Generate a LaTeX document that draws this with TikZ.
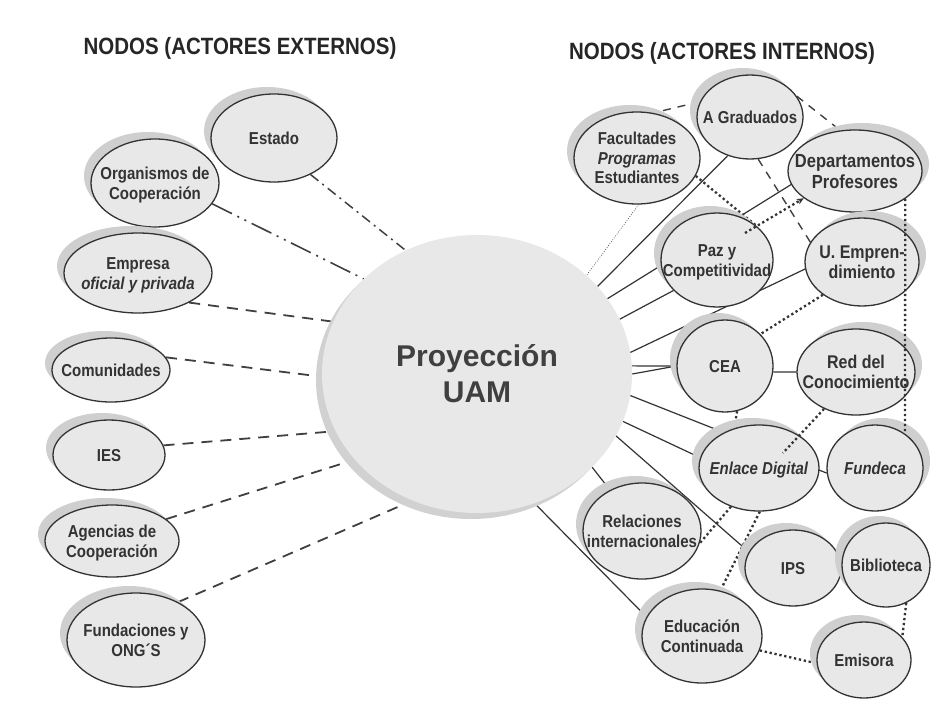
\documentclass[tikz,border=0pt]{standalone}
\usepackage{fontspec}
\setmainfont{Liberation Sans}
\usetikzlibrary{shapes.geometric,shadows,backgrounds,arrows.meta}
\newcommand\vst[1]{\scalebox{1}[1.15]{\begin{tabular}{@{}c@{}}#1\end{tabular}}}
\tikzset{
  nd/.style 2 args={ellipse, draw=black!80, line width=1.3pt, fill=gray!18,
    inner sep=0pt, minimum width=#1pt, minimum height=#2pt},
  shl/.style={drop shadow={shadow xshift=-7pt, shadow yshift=7pt, fill=gray!38, opacity=1}},
  shr/.style={drop shadow={shadow xshift=7pt, shadow yshift=7pt, fill=gray!38, opacity=1}},
  lab/.style={font=\bfseries\fontsize{15}{17}\selectfont, align=center, text=black!80, inner sep=0pt, yshift=-2.5pt},
  ttl/.style={font=\bfseries\fontsize{20.5}{24}\selectfont, text=black!85, inner sep=0pt},
  sol/.style={line width=1.2pt, draw=black!80},
  dsh/.style={line width=1.8pt, draw=black!75, dash pattern=on 11pt off 8pt},
  estl/.style={line width=1.5pt, draw=black!75, dash pattern=on 10pt off 5pt on 2pt off 5pt},
  orgl/.style={line width=1.6pt, draw=black!75, dash pattern=on 22pt off 6pt on 2pt off 6pt on 2pt off 6pt},
  rdsh/.style={line width=1.4pt, draw=black!75, dash pattern=on 8pt off 7pt},
  hdot/.style={line width=2.3pt, draw=black!80, dash pattern=on 2.3pt off 2.7pt},
  tdot/.style={line width=0.7pt, draw=black!70, dash pattern=on 0.8pt off 1.6pt}
}
\begin{document}
\begin{tikzpicture}[x=1pt, y=-1pt]
\useasboundingbox (0,0) rectangle (941,701);
% titles
\node[ttl] (t1) at (240,48) {\scalebox{1}[1.15]{NODOS (ACTORES EXTERNOS)}};
\node[ttl] (t2) at (722,53) {\scalebox{1}[1.15]{NODOS (ACTORES INTERNOS)}};
% central node
\node[ellipse, fill=gray!18, inner sep=0pt, minimum width=310pt, minimum height=278pt,
  drop shadow={shadow xshift=-6pt, shadow yshift=-6pt, fill=gray!36, opacity=1},
  label={[font=\bfseries\fontsize{30}{36}\selectfont, align=center, text=black!75, inner sep=0pt]center:Proyección\\UAM}] (uam) at (477,374) {};
% external nodes
\node[nd={126}{88}, shl, label={[lab]center:{\vst{Estado}}}] (est) at (274,138) {};
\node[nd={128}{88}, shl, label={[lab]center:{\vst{Organismos de\\Cooperación}}}] (org) at (155,183) {};
\node[nd={148}{80}, shl, label={[lab]center:{\vst{Empresa\\\textit{oficial y privada}}}}] (emp) at (138,273) {};
\node[nd={118}{64}, shl, label={[lab]center:{\vst{Comunidades}}}] (com) at (111,370) {};
\node[nd={112}{70}, shl, label={[lab]center:{\vst{IES}}}] (ies) at (109,455) {};
\node[nd={134}{72}, shl, label={[lab]center:{\vst{Agencias de\\Cooperación}}}] (age) at (112,541) {};
\node[nd={138}{94}, shl, label={[lab]center:{\vst{Fundaciones y\\ONG´S}}}] (fun) at (136,640) {};
% internal nodes
\node[nd={126}{92}, shl, label={[lab]center:{\vst{Facultades\\\textit{Programas}\\Estudiantes}}}] (fac) at (637,158) {};
\node[nd={106}{84}, shl, label={[lab]center:{\vst{A Graduados}}}] (agr) at (750,117) {};
\node[nd={134}{82}, shr, label={[lab, font=\bfseries\fontsize{16.5}{18.5}\selectfont]center:{\vst{Departamentos\\Profesores}}}] (dep) at (855,171) {};
\node[nd={112}{94}, shl, label={[lab]center:{\vst{Paz y\\Competitividad}}}] (paz) at (717,260) {};
\node[nd={114}{88}, shr, label={[lab, font=\bfseries\fontsize{16}{18}\selectfont]center:{\vst{U. Empren-\\dimiento}}}] (uem) at (862,262) {};
\node[nd={96}{92}, shl, label={[lab]center:{\vst{CEA}}}] (cea) at (725,366) {};
\node[nd={118}{86}, shr, label={[lab, font=\bfseries\fontsize{16}{18}\selectfont]center:{\vst{Red del\\Conocimiento}}}] (red) at (856,372) {};
\node[nd={120}{86}, shl, label={[lab]center:{\vst{\textit{Enlace Digital}}}}] (enl) at (759,468) {};
\node[nd={96}{86}, shr, label={[lab]center:{\vst{\textit{Fundeca}}}}] (fde) at (875,468) {};
\node[nd={118}{96}, shl, label={[lab]center:{\vst{Relaciones\\internacionales}}}] (rel) at (642,531) {};
\node[nd={96}{76}, shl, label={[lab]center:{\vst{IPS}}}] (ips) at (793,568) {};
\node[nd={88}{84}, shl, label={[lab]center:{\vst{Biblioteca}}}] (bib) at (886,565) {};
\node[nd={120}{94}, shl, label={[lab]center:{\vst{Educación\\Continuada}}}] (edu) at (702,636) {};
\node[nd={94}{76}, shl, label={[lab]center:{\vst{Emisora}}}] (emi) at (864,660) {};
\coordinate (pzin) at (745,233);
\coordinate (enin) at (783,453);
% connectors behind nodes
\begin{pgfonlayer}{background}
\fill[white] (0,0) rectangle (941,701);
\draw[estl] (est.-45) -- (uam.120);
\draw[orgl] (org.-20) -- (uam.140);
\draw[dsh] (emp.-30) -- (uam.160.5);
\draw[dsh] (com.13) -- (uam.181);
\draw[dsh] (ies.10) -- (uam.202);
\draw[dsh] (age.22) -- (uam.215);
\draw[dsh] (fun.42.5) -- (uam.243);
\draw[sol] (uam.36.6) -- (agr.240);
\draw[sol] (uam.30.4) -- (dep.192.5);
\draw[sol] (uam.21) -- (paz.215);
\draw[sol] (uam.8) -- (uem.187.7);
\draw[sol] (uam.3) -- (cea.180);
\draw[sol] (uam.0) -- (cea.180);
\draw[sol] (cea.-7) -- (red.180);
\draw[sol] (uam.-8.4) -- (fde.186);
\draw[sol] (uam.-18.3) -- (enl.170);
\draw[sol] (uam.-24.1) -- (ips.160);
\draw[sol] (uam.-39.3) -- (rel.128.5);
\draw[sol] (uam.-66.9) -- (edu.161);
\draw[tdot] (fac.-88) -- (uam.42.6);
\draw[rdsh] (agr.163) -- (fac.70);
\draw[rdsh] (agr.24) -- (dep.110);
\draw[rdsh] (agr.-79) -- (uem.159);
\draw[hdot] (fac.-17) -- (paz.41);
\draw[hdot] (uem.-140) -- (cea.42);
\draw[hdot] (cea.-75) -- (enl.122);
\draw[hdot] (enl.234) -- (rel.-12);
\draw[hdot] (enl.-89) -- (edu.68);
\draw[hdot] (edu.-14) -- (emi.184);
\draw[hdot] (bib.-62) -- (emi.31);
\end{pgfonlayer}
% connectors over nodes
\draw[hdot, -{Stealth[length=7pt, width=6pt]}] (pzin) -- (dep.208);
\draw[hdot] (red.229) -- (enin);
\draw[hdot] (dep.-29) -- (fde.49);
\end{tikzpicture}
\end{document}
